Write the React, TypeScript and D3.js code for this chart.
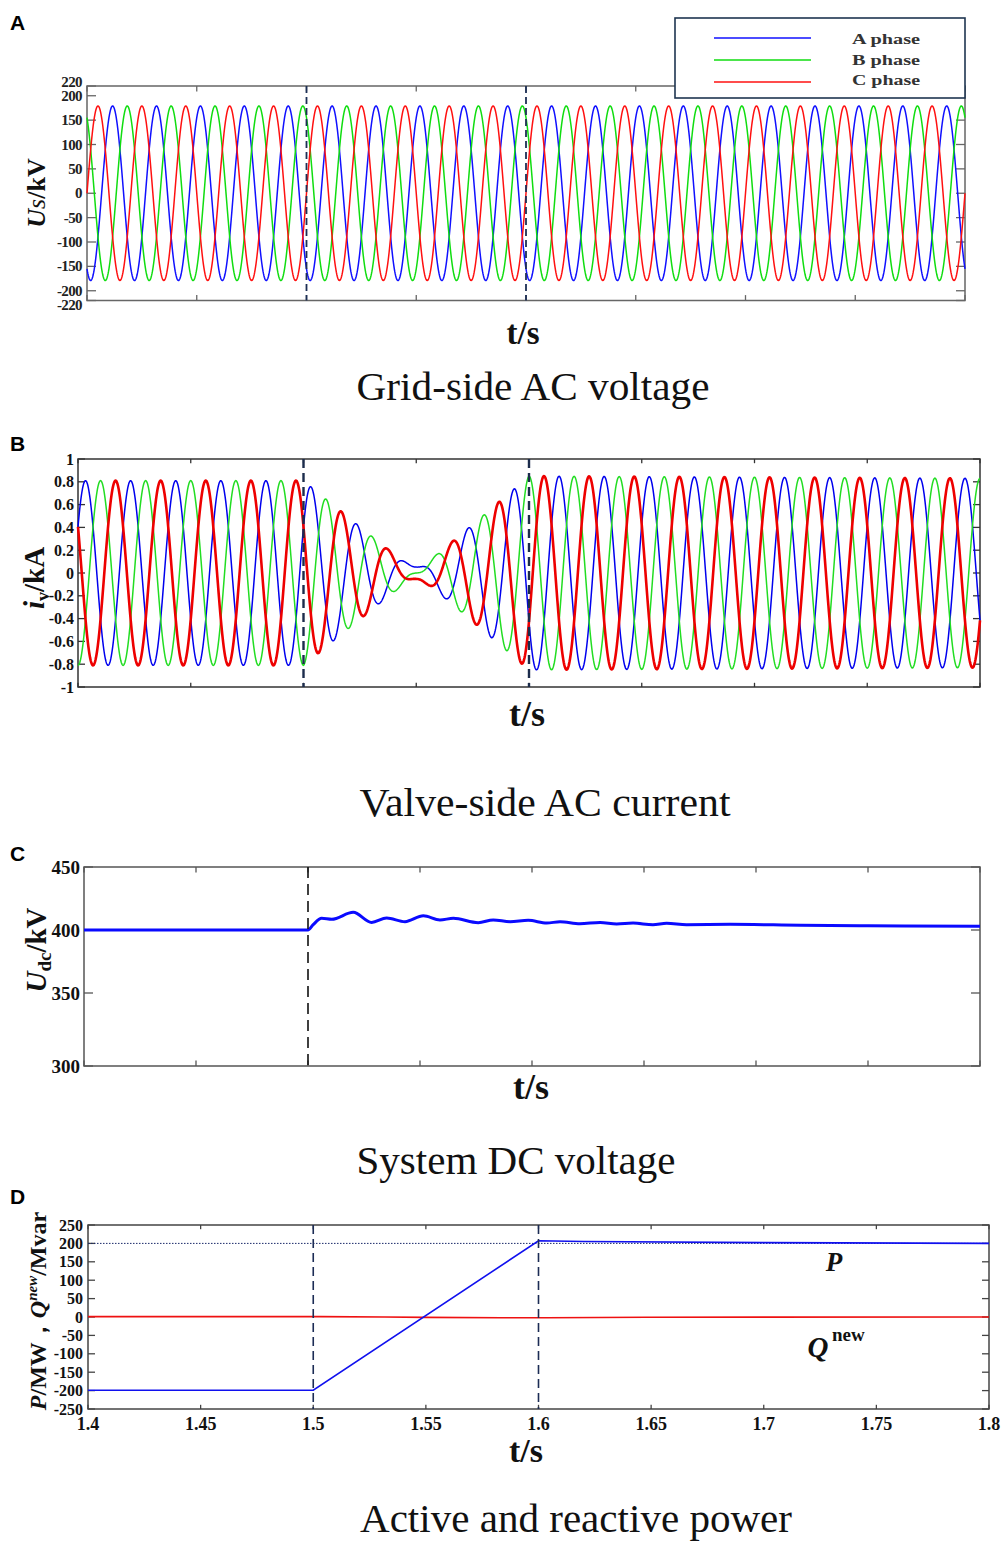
import React from 'react';
import * as d3 from 'd3';

// ---------- shared time axis ----------
const T_START = 1.4;
const T_END = 1.8;
const xTicks = [1.4, 1.45, 1.5, 1.55, 1.6, 1.65, 1.7, 1.75, 1.8];
const xTickLabels = ['1.4', '1.45', '1.5', '1.55', '1.6', '1.65', '1.7', '1.75', '1.8'];
const eventTimes = [1.5, 1.6];
const freqHz = 50;
const SAMPLE_STEP = 0.0002;

// ---------- Panel A: grid-side AC voltage ----------
const phaseNames = ['A phase', 'B phase', 'C phase'];
const phaseColors = ['#1010ff', '#10dd10', '#ff1010'];
const gridAmplitude = [179, 179, 179];
const gridPhaseDeg = [150, 30, 270];
const gridYTicks = [220, 200, 150, 100, 50, 0, -50, -100, -150, -200, -220];

// ---------- Panel B: valve-side AC current ----------
const currentEnvTimes = [1.4, 1.5, 1.55, 1.6, 1.8];
const currentInPhase = [0.81, 0.81, 0, -0.85, -0.83];
const currentQuad = [0, 0, 0.06, 0, 0];
const currentPhaseDeg = [-60, 180, 60];
const currentYTicks = [1, 0.8, 0.6, 0.4, 0.2, 0, -0.2, -0.4, -0.6, -0.8, -1];
const currentYLabels = ['1', '0.8', '0.6', '0.4', '0.2', '0', '-0.2', '-0.4', '-0.6', '-0.8', '-1'];

// ---------- Panel C: DC voltage ----------
const dcTimes = [1.4, 1.5, 1.5022, 1.5061, 1.5106, 1.5202, 1.5284, 1.5351, 1.5433, 1.5515, 1.5589, 1.5649, 1.576, 1.5827, 1.5902, 1.5983, 1.6066, 1.6125, 1.6214, 1.6304, 1.6378, 1.6451, 1.654, 1.6601, 1.669, 1.6884, 1.72, 1.75, 1.8];
const dcValues = [400, 400, 404, 409.3, 408.5, 414, 406, 409.5, 406.6, 411.3, 408, 409.3, 405.8, 408, 406.6, 407.7, 405.5, 406.6, 405, 406, 404.8, 405.5, 404.2, 405.3, 404.2, 404.5, 403.8, 403.4, 403];
const dcYTicks = [450, 400, 350, 300];

// ---------- Panel D: active / reactive power ----------
const pTimes = [1.4, 1.5, 1.6, 1.62, 1.7, 1.8];
const pValues = [-199, -199, 207, 205, 202, 200];
const qTimes = [1.4, 1.5, 1.55, 1.6, 1.65, 1.8];
const qValues = [1, 1, -1, -2, -0.5, 0];
const powerYTicks = [250, 200, 150, 100, 50, 0, -50, -100, -150, -200, -250];
const pReference = 200;

const SERIF = '"Liberation Serif", "Times New Roman", serif';
const SANS = '"Liberation Sans", Arial, sans-serif';

const sampleTimes = d3.range(T_START, T_END + SAMPLE_STEP / 2, SAMPLE_STEP);

function Frame({ x0, x1, y0, y1, xs, ys, yTicks, color, tick }: any) {
  return (
    <g>
      <rect x={x0} y={y0} width={x1 - x0} height={y1 - y0} fill="none" stroke={color} strokeWidth={1.5} />
      {yTicks.map((v: number, i: number) => (
        <g key={'y' + i}>
          <line x1={x0} x2={x0 + tick} y1={ys(v)} y2={ys(v)} stroke={color} strokeWidth={1.3} />
          <line x1={x1} x2={x1 - tick} y1={ys(v)} y2={ys(v)} stroke={color} strokeWidth={1.3} />
        </g>
      ))}
      {xTicks.map((v, i) => (
        <g key={'x' + i}>
          <line x1={xs(v)} x2={xs(v)} y1={y1} y2={y1 - tick * 0.6} stroke={color} strokeWidth={1.3} />
          <line x1={xs(v)} x2={xs(v)} y1={y0} y2={y0 + tick * 0.6} stroke={color} strokeWidth={1.3} />
        </g>
      ))}
    </g>
  );
}

function Title({ x, y, width, children }: any) {
  return (
    <text x={x} y={y} textAnchor="middle" fontFamily={SERIF} fontSize={39} fill="#111" textLength={width} lengthAdjust="spacingAndGlyphs">
      {children}
    </text>
  );
}

function PanelA() {
  const x0 = 87, x1 = 965, y0 = 86, y1 = 300.5;
  const xs = d3.scaleLinear().domain([T_START, T_END]).range([x0, x1]);
  const ys = d3.scaleLinear().domain([-220, 220]).range([y1, y0]);
  const line = d3.line<number[]>().x(d => xs(d[0])).y(d => ys(d[1]));
  const series = phaseNames.map((_, k) =>
    sampleTimes.map(t => [t, gridAmplitude[k] * Math.cos(2 * Math.PI * freqHz * (t - T_START) + (gridPhaseDeg[k] * Math.PI) / 180)])
  );
  return (
    <g>
      <text x={10} y={30} fontFamily={SANS} fontWeight="bold" fontSize={21}>A</text>
      <Frame x0={x0} x1={x1} y0={y0} y1={y1} xs={xs} ys={ys} yTicks={gridYTicks} color="#666" tick={9} />
      {series.map((s, k) => (
        <path key={k} d={line(s) || ''} fill="none" stroke={phaseColors[k]} strokeWidth={1.5} />
      ))}
      {eventTimes.map((t, i) => (
        <line key={i} x1={xs(t)} x2={xs(t)} y1={y0} y2={y1} stroke="#1d2f55" strokeWidth={1.8} strokeDasharray="7,4" />
      ))}
      {gridYTicks.map((v, i) => (
        <text key={i} x={82} y={ys(v) + (v === 220 ? -4 : v === -220 ? 4 : 0)} textAnchor="end" dominantBaseline="central" fontFamily={SERIF} fontWeight="bold" fontSize={15} fill="#222" letterSpacing={-0.6}>
          {v}
        </text>
      ))}
      <text transform="translate(45,193) rotate(-90)" textAnchor="middle" fontFamily={SERIF} fontWeight="bold" fontSize={26} fill="#111">
        <tspan fontStyle="italic">U</tspan>
        <tspan fontStyle="italic" fontWeight="normal">s</tspan>
        <tspan>/kV</tspan>
      </text>
      <text x={523} y={344} textAnchor="middle" fontFamily={SERIF} fontWeight="bold" fontSize={33} fill="#111">t/s</text>
      <Title x={533} y={400} width={353}>Grid-side AC voltage</Title>
      {/* legend */}
      <rect x={675} y={18} width={290} height={80} fill="#fff" stroke="#1f3550" strokeWidth={1.6} />
      {phaseNames.map((n, k) => (
        <g key={k}>
          <line x1={714} x2={811} y1={38 + k * 22} y2={38 + k * 22} stroke={phaseColors[k]} strokeWidth={1.6} />
          <text x={886} y={44 + k * 20.5} textAnchor="middle" fontFamily={SERIF} fontWeight="bold" fontSize={15} fill="#333" textLength={68} lengthAdjust="spacingAndGlyphs">
            {n}
          </text>
        </g>
      ))}
    </g>
  );
}

function PanelB() {
  const x0 = 78, x1 = 980, y0 = 459, y1 = 687;
  const xs = d3.scaleLinear().domain([T_START, T_END]).range([x0, x1]);
  const ys = d3.scaleLinear().domain([-1, 1]).range([y1, y0]);
  const line = d3.line<number[]>().x(d => xs(d[0])).y(d => ys(d[1]));
  const envP = d3.scaleLinear().domain(currentEnvTimes).range(currentInPhase);
  const envQ = d3.scaleLinear().domain(currentEnvTimes).range(currentQuad);
  const series = currentPhaseDeg.map(ph =>
    sampleTimes.map(t => {
      const th = 2 * Math.PI * freqHz * (t - T_START) + (ph * Math.PI) / 180;
      return [t, envP(t) * Math.cos(th) + envQ(t) * Math.sin(th)];
    })
  );
  const widths = [1.5, 1.5, 2.6];
  return (
    <g>
      <text x={10} y={451} fontFamily={SANS} fontWeight="bold" fontSize={21}>B</text>
      <Frame x0={x0} x1={x1} y0={y0} y1={y1} xs={xs} ys={ys} yTicks={currentYTicks} color="#333" tick={7} />
      {[0, 1, 2].map(k => (
        <path key={k} d={line(series[k]) || ''} fill="none" stroke={['#0000ee', '#22dd22', '#ee0000'][k]} strokeWidth={widths[k]} />
      ))}
      {eventTimes.map((t, i) => (
        <line key={i} x1={xs(t)} x2={xs(t)} y1={y0} y2={y1} stroke="#1c2c4c" strokeWidth={2.4} strokeDasharray="9,5" />
      ))}
      {currentYTicks.map((v, i) => (
        <text key={i} x={74} y={ys(v)} textAnchor="end" dominantBaseline="central" fontFamily={SERIF} fontWeight="bold" fontSize={16} fill="#111">
          {currentYLabels[i]}
        </text>
      ))}
      <text transform="translate(44,578) rotate(-90)" textAnchor="middle" fontFamily={SERIF} fontWeight="bold" fontSize={29} fill="#111">
        <tspan fontStyle="italic">i</tspan>
        <tspan fontSize={18} dy={5}>v</tspan>
        <tspan dy={-5}>/kA</tspan>
      </text>
      <text x={527} y={726} textAnchor="middle" fontFamily={SERIF} fontWeight="bold" fontSize={36} fill="#111">t/s</text>
      <Title x={545} y={816} width={371}>Valve-side AC current</Title>
    </g>
  );
}

function PanelC() {
  const x0 = 84, x1 = 980, y0 = 867, y1 = 1066;
  const xs = d3.scaleLinear().domain([T_START, T_END]).range([x0, x1]);
  const ys = d3.scaleLinear().domain([300, 350, 450]).range([1066, 993, 867]);
  const line = d3.line<number>().x((_, i) => xs(dcTimes[i])).y(d => ys(d)).curve(d3.curveMonotoneX);
  return (
    <g>
      <text x={10} y={861} fontFamily={SANS} fontWeight="bold" fontSize={21}>C</text>
      <Frame x0={x0} x1={x1} y0={y0} y1={y1} xs={xs} ys={ys} yTicks={dcYTicks} color="#555" tick={9} />
      <path d={line(dcValues) || ''} fill="none" stroke="#0a0aff" strokeWidth={3} />
      <line x1={xs(eventTimes[0])} x2={xs(eventTimes[0])} y1={y0} y2={y1 + 4} stroke="#111" strokeWidth={1.6} strokeDasharray="11,6" />
      {dcYTicks.map((v, i) => (
        <text key={i} x={80} y={ys(v)} textAnchor="end" dominantBaseline="central" fontFamily={SERIF} fontWeight="bold" fontSize={19} fill="#111">
          {v}
        </text>
      ))}
      <text transform="translate(46,950) rotate(-90)" textAnchor="middle" fontFamily={SERIF} fontWeight="bold" fontSize={29} fill="#111">
        <tspan fontStyle="italic">U</tspan>
        <tspan fontSize={19} dy={5}>dc</tspan>
        <tspan dy={-5}>/kV</tspan>
      </text>
      <text x={531} y={1099} textAnchor="middle" fontFamily={SERIF} fontWeight="bold" fontSize={36} fill="#111">t/s</text>
      <Title x={516} y={1174} width={319}>System DC voltage</Title>
    </g>
  );
}

function PanelD() {
  const x0 = 88, x1 = 989, y0 = 1225, y1 = 1409;
  const xs = d3.scaleLinear().domain([T_START, T_END]).range([x0, x1]);
  const ys = d3.scaleLinear().domain([-250, 250]).range([y1, y0]);
  const pLine = d3.line<number>().x((_, i) => xs(pTimes[i])).y(d => ys(d));
  const qLine = d3.line<number>().x((_, i) => xs(qTimes[i])).y(d => ys(d)).curve(d3.curveMonotoneX);
  return (
    <g>
      <text x={10} y={1204} fontFamily={SANS} fontWeight="bold" fontSize={21}>D</text>
      <Frame x0={x0} x1={x1} y0={y0} y1={y1} xs={xs} ys={ys} yTicks={powerYTicks} color="#444" tick={7} />
      <line x1={x0} x2={x1} y1={ys(pReference)} y2={ys(pReference)} stroke="#1a2a6a" strokeWidth={1} strokeDasharray="1.5,1.5" />
      <path d={qLine(qValues) || ''} fill="none" stroke="#ee1111" strokeWidth={1.6} />
      <path d={pLine(pValues) || ''} fill="none" stroke="#1010ee" strokeWidth={1.6} />
      {eventTimes.map((t, i) => (
        <line key={i} x1={xs(t)} x2={xs(t)} y1={y0} y2={y1} stroke="#1c2c55" strokeWidth={1.6} strokeDasharray="9,5" />
      ))}
      {powerYTicks.map((v, i) => (
        <text key={i} x={83} y={ys(v)} textAnchor="end" dominantBaseline="central" fontFamily={SERIF} fontWeight="bold" fontSize={16} fill="#111">
          {v}
        </text>
      ))}
      {xTicks.map((v, i) => (
        <text key={i} x={xs(v)} y={1430} textAnchor="middle" fontFamily={SERIF} fontWeight="bold" fontSize={18} fill="#111">
          {xTickLabels[i]}
        </text>
      ))}
      <text x={834} y={1271} textAnchor="middle" fontFamily={SERIF} fontWeight="bold" fontStyle="italic" fontSize={27} fill="#111">P</text>
      <text x={818} y={1357} textAnchor="middle" fontFamily={SERIF} fontWeight="bold" fontStyle="italic" fontSize={29} fill="#111">Q</text>
      <text x={832} y={1341} fontFamily={SERIF} fontWeight="bold" fontSize={19} fill="#111">new</text>
      <text transform="translate(46,1311) rotate(-90)" textAnchor="middle" fontFamily={SERIF} fontWeight="bold" fontSize={24} fill="#111">
        <tspan fontStyle="italic">P</tspan>
        <tspan>/MW，</tspan>
        <tspan fontStyle="italic">Q</tspan>
        <tspan fontStyle="italic" fontSize={15} dy={-9}>new</tspan>
        <tspan dy={9}>/Mvar</tspan>
      </text>
      <text x={526} y={1462} textAnchor="middle" fontFamily={SERIF} fontWeight="bold" fontSize={34} fill="#111">t/s</text>
      <Title x={576} y={1532} width={432}>Active and reactive power</Title>
    </g>
  );
}

export default function App() {
  return (
    <svg width={1005} height={1542} viewBox="0 0 1005 1542" style={{ position: 'absolute', left: 0, top: 0, background: '#fff' }}>
      <rect x={0} y={0} width={1005} height={1542} fill="#fff" />
      <PanelA />
      <PanelB />
      <PanelC />
      <PanelD />
    </svg>
  );
}
